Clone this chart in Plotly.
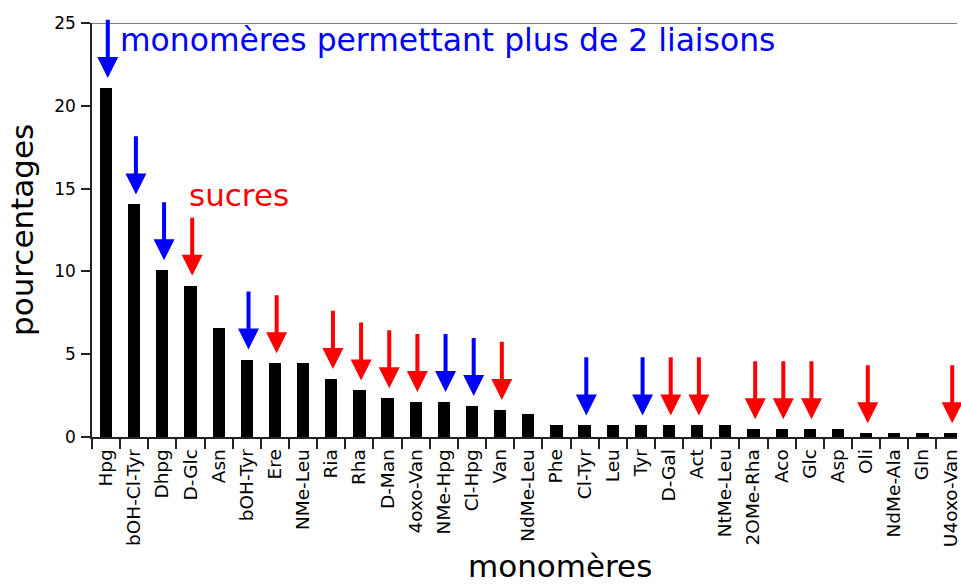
import plotly.graph_objects as go

# Monomer frequencies (percent of all occurrences)
monomers = ["Hpg", "bOH-Cl-Tyr", "Dhpg", "D-Glc", "Asn", "bOH-Tyr", "Ere", "NMe-Leu",
            "Ria", "Rha", "D-Man", "4oxo-Van", "NMe-Hpg", "Cl-Hpg", "Van", "NdMe-Leu",
            "Phe", "Cl-Tyr", "Leu", "Tyr", "D-Gal", "Act", "NtMe-Leu", "2OMe-Rha",
            "Aco", "Glc", "Asp", "Oli", "NdMe-Ala", "Gln", "U4oxo-Van"]
percentages = [21.08, 14.05, 10.07, 9.13, 6.56, 4.68, 4.45, 4.45,
               3.51, 2.81, 2.34, 2.11, 2.11, 1.87, 1.64, 1.41,
               0.70, 0.70, 0.70, 0.70, 0.70, 0.70, 0.70, 0.47,
               0.47, 0.47, 0.47, 0.23, 0.23, 0.23, 0.23]

# Monomers that can form more than two links, and sugar monomers
multi_link = ["Hpg", "bOH-Cl-Tyr", "Dhpg", "bOH-Tyr", "NMe-Hpg", "Cl-Hpg", "Cl-Tyr", "Tyr"]
sugars = ["D-Glc", "Ere", "Ria", "Rha", "D-Man", "4oxo-Van", "Van", "D-Gal", "Act",
          "2OMe-Rha", "Aco", "Glc", "Oli", "U4oxo-Van"]

BLUE = "#0000ff"
RED = "#ff0000"
FONT = "DejaVu Sans"

fig = go.Figure()
fig.add_trace(go.Bar(x=monomers, y=percentages, width=0.435,
                     marker=dict(color="black", line=dict(width=0)),
                     hoverinfo="x+y"))

annotations = []
# Down arrows pointing at each flagged bar
for i, (name, v) in enumerate(zip(monomers, percentages)):
    if name in multi_link:
        col = BLUE
    elif name in sugars:
        col = RED
    else:
        continue
    annotations.append(dict(
        x=i + 0.06, y=v + 0.6, ax=i + 0.06, ay=v + 4.2,
        xref="x", yref="y", axref="x", ayref="y",
        text="", showarrow=True, arrowhead=2, arrowsize=1.05,
        arrowwidth=4, arrowcolor=col, standoff=0))

annotations += [
    dict(x=0.42, y=23.95, xref="x", yref="y", xanchor="left", yanchor="middle",
         text="monomères permettant plus de 2 liaisons", showarrow=False,
         font=dict(family=FONT, size=31.4, color=BLUE)),
    dict(x=2.86, y=14.6, xref="x", yref="y", xanchor="left", yanchor="middle",
         text="sucres", showarrow=False,
         font=dict(family=FONT, size=31, color=RED)),
    dict(x=0, y=0.5, xref="paper", yref="paper", xanchor="center", yanchor="middle",
         xshift=-70, textangle=-90, text="pourcentages", showarrow=False,
         font=dict(family=FONT, size=31, color="black")),
    # x-axis title, sitting on the bottom edge of the figure
    dict(x=(562 - 92) / 869, y=-(586 - 437) / 414, xref="paper", yref="paper",
         xanchor="center", yanchor="bottom", text="monomères", showarrow=False,
         font=dict(family=FONT, size=31, color="black")),
]

fig.update_layout(
    width=961, height=587,
    margin=dict(l=92, r=0, t=23, b=150),
    paper_bgcolor="white", plot_bgcolor="white",
    showlegend=False, bargap=0,
    font=dict(family=FONT, size=16, color="black"),
    annotations=annotations,
    xaxis=dict(type="category", range=[-0.5, 30.23], tickson="boundaries",
               ticks="outside", ticklen=10, tickwidth=1.5, tickcolor="#222",
               showline=True, linecolor="#222", linewidth=1.5,
               tickangle=-90, tickfont=dict(family=FONT, size=18.5),
               ticklabelstandoff=3,
               showgrid=False, zeroline=False),
    yaxis=dict(range=[0, 25], tickvals=[0, 5, 10, 15, 20, 25],
               ticks="outside", ticklen=9, tickwidth=1.5, tickcolor="#222",
               showline=True, linecolor="#222", linewidth=1.5,
               tickfont=dict(family=FONT, size=17), ticklabelstandoff=2,
               showgrid=False, zeroline=False),
    shapes=[dict(type="line", xref="paper", yref="y", x0=0, x1=1, y0=25, y1=25,
                 line=dict(color="#808080", width=2))],
)

fig.write_html("out.html")
